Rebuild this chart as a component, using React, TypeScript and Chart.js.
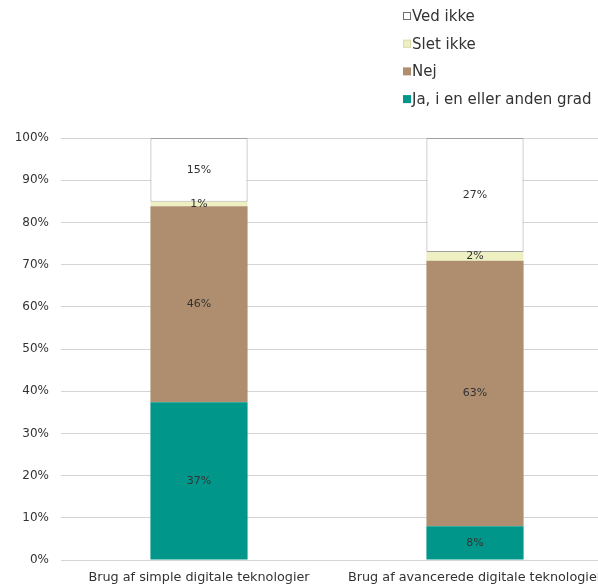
import React, { useEffect, useRef } from "react";
import { Chart, registerables } from "chart.js";

Chart.register(...registerables);

const categories = ["Brug af simple digitale teknologier", "Brug af avancerede digitale teknologier"];
const jaValues = [37.4, 8.0];
const nejValues = [46.4, 62.9];
const sletIkkeValues = [1.1, 2.1];
const vedIkkeValues = [15.1, 27.0];
const yTicks = [0, 10, 20, 30, 40, 50, 60, 70, 80, 90, 100];

const FONT = "'DejaVu Sans', sans-serif";
const TEXT = "#333333";

const labelPlugin = {
  id: "segLabels",
  afterDatasetsDraw(chart: any) {
    const ctx = chart.ctx;
    ctx.save();
    ctx.font = `11px ${FONT}`;
    ctx.fillStyle = TEXT;
    ctx.textAlign = "center";
    ctx.textBaseline = "middle";
    chart.data.datasets.forEach((ds: any, i: number) => {
      const meta = chart.getDatasetMeta(i);
      meta.data.forEach((el: any, j: number) => {
        const v = ds.data[j];
        const y = (el.y + el.base) / 2;
        ctx.fillText(Math.round(v) + "%", el.x, y);
      });
    });
    ctx.restore();
  },
};

const legendPlugin = {
  id: "customLegend",
  afterDraw(chart: any) {
    const ctx = chart.ctx;
    const items = [...chart.data.datasets].reverse();
    ctx.save();
    ctx.font = `15px ${FONT}`;
    ctx.textBaseline = "middle";
    ctx.textAlign = "left";
    const x0 = 403;
    const y0 = 16;
    const step = 27.7;
    items.forEach((ds: any, k: number) => {
      const y = y0 + k * step;
      ctx.fillStyle = ds.backgroundColor;
      ctx.fillRect(x0, y - 4, 8, 8);
      if (ds.legendBorder) {
        ctx.strokeStyle = ds.legendBorder;
        ctx.lineWidth = 1;
        ctx.strokeRect(x0 + 0.5, y - 3.5, 7, 7);
      }
      ctx.fillStyle = TEXT;
      ctx.fillText(ds.label, x0 + 9, y + 1);
    });
    ctx.restore();
  },
};

export default function App() {
  const ref = useRef<HTMLCanvasElement | null>(null);
  useEffect(() => {
    if (!ref.current) return;
    const chart = new Chart(ref.current, {
      type: "bar",
      data: {
        labels: categories,
        datasets: [
          { label: "Ja, i en eller anden grad", data: jaValues, backgroundColor: "#00968A", borderWidth: 0, legendBorder: null } as any,
          { label: "Nej", data: nejValues, backgroundColor: "#AE8E6E", borderWidth: 0, legendBorder: null } as any,
          { label: "Slet ikke", data: sletIkkeValues, backgroundColor: "#EEF0C2", borderWidth: 0, legendBorder: "#d8dcb0" } as any,
          { label: "Ved ikke", data: vedIkkeValues, backgroundColor: "#FFFFFF", borderColor: "#a0a0a0", borderWidth: 1, borderSkipped: false, legendBorder: "#707070" } as any,
        ],
      },
      options: {
        responsive: false,
        animation: false,
        layout: { padding: { top: 138, right: 27, left: 0, bottom: 0 } },
        datasets: { bar: { categoryPercentage: 1, barPercentage: 0.352 } },
        plugins: { legend: { display: false }, tooltip: { enabled: false } },
        scales: {
          x: {
            stacked: true,
            grid: { display: false, drawTicks: false },
            border: { display: false },
            ticks: { color: TEXT, font: { family: FONT, size: 12.8 }, padding: 10, maxRotation: 0, autoSkip: false },
            afterFit: (s: any) => { s.height = 24; },
          },
          y: {
            stacked: true,
            min: 0,
            max: 100,
            afterBuildTicks: (s: any) => { s.ticks = yTicks.map((v) => ({ value: v })); },
            grid: { color: "#d4d4d4", lineWidth: 1, drawTicks: false },
            border: { display: false },
            ticks: { color: TEXT, font: { family: FONT, size: 12 }, padding: 12, callback: (v: any) => v + "%" },
            afterFit: (s: any) => { s.width = 61; },
          },
        },
      },
      plugins: [labelPlugin, legendPlugin],
    });
    return () => chart.destroy();
  }, []);
  return (
    <div style={{ position: "fixed", left: 0, top: 0, width: 598, height: 584, overflow: "hidden", background: "#fff" }}>
      <canvas ref={ref} width={640} height={584} style={{ width: 640, height: 584, display: "block" }} />
    </div>
  );
}
